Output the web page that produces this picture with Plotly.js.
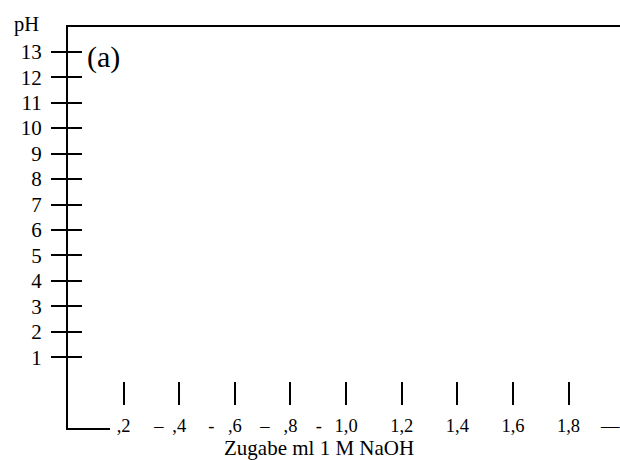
<!DOCTYPE html>
<html>
<head>
<meta charset="utf-8">
<script src="https://cdn.plot.ly/plotly-3.0.1.min.js"></script>
<style>html,body{margin:0;padding:0;background:#fff;}#chart{width:620px;height:460px;}</style>
</head>
<body>
<div id="chart"></div>
<script>
// pH axis ticks
const pHTicks = [1, 2, 3, 4, 5, 6, 7, 8, 9, 10, 11, 12, 13];
const pHLabels = ['1', '2', '3', '4', '5', '6', '7', '8', '9', '10', '11', '12', '13'];
// NaOH volume axis ticks (ml)
const mlTicks = [0.2, 0.4, 0.6, 0.8, 1.0, 1.2, 1.4, 1.6, 1.8];
const mlLabels = [',2', ',4', ',6', ',8', '1,0', '1,2', '1,4', '1,6', '1,8'];
// leftover axis-line dashes between the labels
const dashPositions = [0.327, 0.515, 0.708, 0.902, 1.95];
const dashLabels = ['\u2013', '-', '\u2013', '-', '\u2014'];
// texts
const yTitle = 'pH';
const xTitle = 'Zugabe ml 1 M NaOH';
const panelLabel = '(a)';

const FONT = 'Liberation Serif, Times New Roman, serif';
const xRange = [0, 1.985];
const yRange = [-1.775, 13.97];

const labelVals = mlTicks.concat(dashPositions);
const labelText = mlLabels.concat(dashLabels);

function emptyTrace(xa, ya) {
  return {type: 'scatter', mode: 'markers', x: [], y: [], xaxis: xa, yaxis: ya,
          showlegend: false, hoverinfo: 'skip'};
}
const data = [
  emptyTrace('x', 'y'),
  emptyTrace('x2', 'y'),
  emptyTrace('x3', 'y'),
  emptyTrace('x4', 'y'),
  emptyTrace('x', 'y2')
];

const LW = 2;
const layout = {
  width: 620, height: 460,
  margin: {l: 68, r: 0, t: 27, b: 32, pad: 0},
  paper_bgcolor: '#fff', plot_bgcolor: 'rgba(0,0,0,0)',
  font: {family: FONT, color: '#000', size: 20},
  showlegend: false,
  xaxis: {
    range: xRange, showgrid: false, zeroline: false, showline: false,
    ticks: '', tickmode: 'array', tickvals: labelVals, ticktext: labelText,
    tickangle: 0, tickfont: {family: FONT, size: 18.5, color: '#000'},
    ticklabelstandoff: -16, ticklabeloverflow: 'allow', fixedrange: true
  },
  xaxis2: {
    overlaying: 'x', anchor: 'free', position: 0.0574, range: xRange,
    showgrid: false, zeroline: false, showline: false,
    ticks: 'inside', ticklen: 23, tickwidth: 2, tickcolor: '#000',
    tickmode: 'array', tickvals: mlTicks, showticklabels: false
  },
  xaxis3: {
    overlaying: 'x', anchor: 'y', side: 'top', range: xRange,
    showgrid: false, zeroline: false, showline: true, linewidth: LW, linecolor: '#000',
    ticks: '', showticklabels: false
  },
  xaxis4: {
    domain: [0, 0.076], anchor: 'y', range: [0, 1],
    showgrid: false, zeroline: false, showline: true, linewidth: LW, linecolor: '#000',
    ticks: '', showticklabels: false
  },
  yaxis: {
    range: yRange, showgrid: false, zeroline: false,
    showline: true, linewidth: LW, linecolor: '#000',
    ticks: 'outside', ticklen: 15, tickwidth: LW, tickcolor: '#000',
    tickmode: 'array', tickvals: pHTicks, ticktext: pHLabels,
    tickfont: {family: FONT, size: 21, color: '#000'},
    ticklabelstandoff: 5, fixedrange: true
  },
  yaxis2: {
    overlaying: 'y', anchor: 'x', side: 'left', range: yRange,
    showgrid: false, zeroline: false, showline: false,
    ticks: 'inside', ticklen: 14, tickwidth: LW, tickcolor: '#000',
    tickmode: 'array', tickvals: pHTicks, showticklabels: false
  },
  annotations: [
    {text: yTitle, xref: 'paper', yref: 'paper', x: -0.1014, y: 1.006,
     xanchor: 'left', yanchor: 'middle', showarrow: false,
     font: {family: FONT, size: 20.5, color: '#000'}},
    {text: panelLabel, xref: 'paper', yref: 'paper', x: 0.03, y: 0.925,
     xanchor: 'left', yanchor: 'middle', showarrow: false,
     font: {family: FONT, size: 30, color: '#000'}},
    {text: xTitle, xref: 'paper', yref: 'paper', x: 0.4547, y: -0.0511,
     xanchor: 'center', yanchor: 'middle', showarrow: false,
     font: {family: FONT, size: 21, color: '#000'}}
  ]
};

Plotly.newPlot('chart', data, layout, {staticPlot: true, displayModeBar: false});
</script>
</body>
</html>
